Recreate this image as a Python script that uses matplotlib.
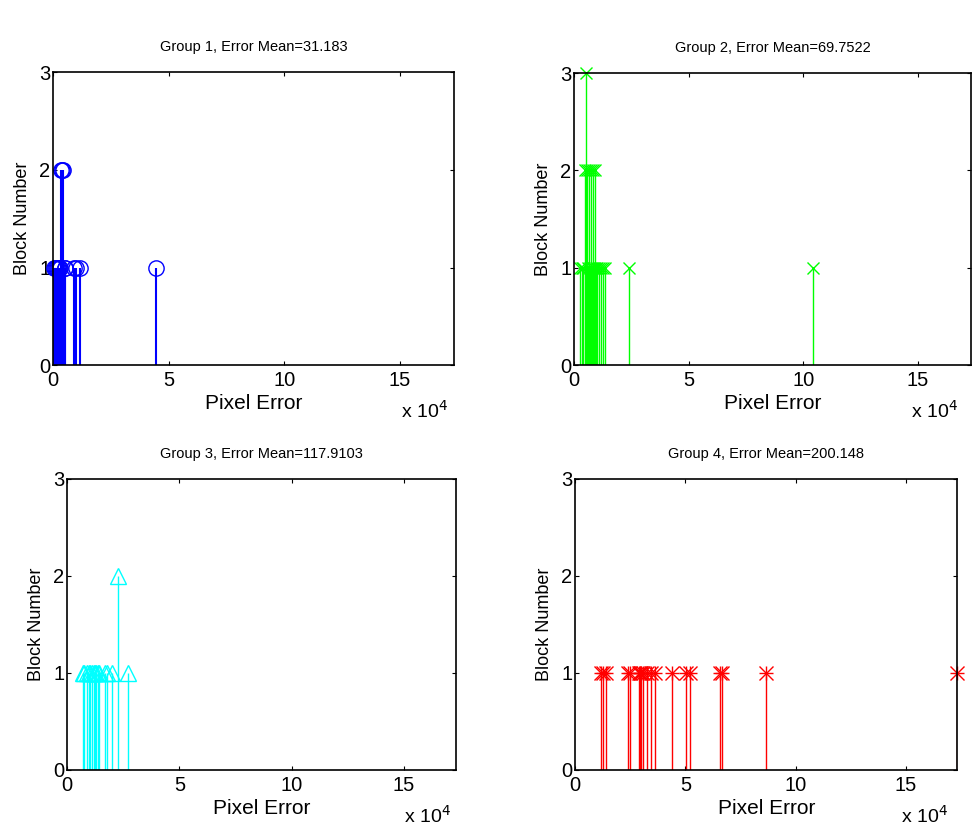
import matplotlib
matplotlib.use('Agg')
import numpy as np
import matplotlib.pyplot as plt

plt.rcParams['font.family'] = ['Liberation Sans', 'DejaVu Sans']

# pixel error (in units of 1e4) and block counts
g1_err = [0.04, 0.08, 0.12, 0.16, 0.20, 0.24, 0.28, 0.33, 0.39, 0.45, 0.50, 0.53, 0.91, 0.98, 1.15, 4.47]
g1_cnt = [1, 1, 1, 1, 1, 1, 1, 2, 2, 2, 1, 1, 1, 1, 1, 1]

g2_err = [0.26, 0.33, 0.40, 0.48, 0.53, 0.58, 0.62, 0.67, 0.71, 0.75, 0.80, 0.82, 0.86, 0.92,
          0.96, 1.02, 1.10, 1.18, 1.27, 1.36, 2.38, 10.43]
g2_cnt = [1, 1, 1, 2, 3, 2, 1, 2, 1, 2, 1, 2, 1, 2, 1, 1, 1, 1, 1, 1, 1, 1]

g3_err = [0.70, 0.77, 0.89, 0.97, 1.04, 1.11, 1.19, 1.23, 1.29, 1.37, 1.44, 1.68, 1.78, 2.01, 2.26, 2.70]
g3_cnt = [1, 1, 1, 1, 1, 1, 1, 1, 1, 1, 1, 1, 1, 1, 2, 1]

g4_err = [1.17, 1.26, 1.41, 2.40, 2.47, 2.88, 2.95, 3.01, 3.08, 3.26, 3.44, 3.62, 4.39,
          5.05, 5.20, 6.59, 6.67, 8.67, 17.33]
g4_cnt = [1] * len(g4_err)

titles = ['Group 1, Error Mean=31.183', 'Group 2, Error Mean=69.7522',
          'Group 3, Error Mean=117.9103', 'Group 4, Error Mean=200.148']
XMAX = 17.33e4

fig = plt.figure(figsize=(9.73, 8.30), dpi=100)
rects = [[0.0545, 0.560, 0.412, 0.353],
         [0.590, 0.560, 0.408, 0.352],
         [0.0689, 0.0723, 0.400, 0.351],
         [0.591, 0.0723, 0.393, 0.351]]
# color, markers, marker size, stem width
data = [(g1_err, g1_cnt, '#0000ff', ['o'], 11, 1.5),
        (g2_err, g2_cnt, '#00ff00', ['x'], 9, 1.0),
        (g3_err, g3_cnt, '#00ffff', ['^'], 12, 1.0),
        (g4_err, g4_cnt, '#ff0000', ['+', 'x'], 10, 1.0)]
xl_pos = [0.985, 0.967, 0.985, 0.975]

for i, (rect, (err, cnt, col, mks, ms, lw), title) in enumerate(zip(rects, data, titles)):
    ax = fig.add_axes(rect)
    x = np.array(err) * 1e4
    y = np.array(cnt)
    ax.vlines(x, 0, y, colors=col, lw=lw)
    for mk in mks:
        ax.plot(x, y, linestyle='none', marker=mk, markersize=ms, markerfacecolor='none',
                markeredgecolor=col, markeredgewidth=1, clip_on=False)
    ax.set_xlim(0, XMAX)
    ax.set_ylim(0, 3)
    ax.set_xticks([0, 5e4, 10e4, 15e4])
    ax.set_xticklabels(['0', '5', '10', '15'])
    ax.set_yticks([0, 1, 2, 3])
    ax.tick_params(direction='in', length=3, labelsize=14.5, top=True, right=True)
    ax.tick_params(axis='x', pad=4)
    ax.tick_params(axis='y', pad=2)
    for s in ax.spines.values():
        s.set_linewidth(1.2)
    ax.set_title(title, fontsize=10.5, pad=15)
    ax.set_xlabel('Pixel Error', fontsize=15, labelpad=3)
    ax.set_ylabel('Block Number', fontsize=13, labelpad=6)
    ax.text(xl_pos[i], -0.12, r'x 10$^{4}$', transform=ax.transAxes, ha='right', va='top', fontsize=14)

fig.savefig('out.png', dpi=100)
